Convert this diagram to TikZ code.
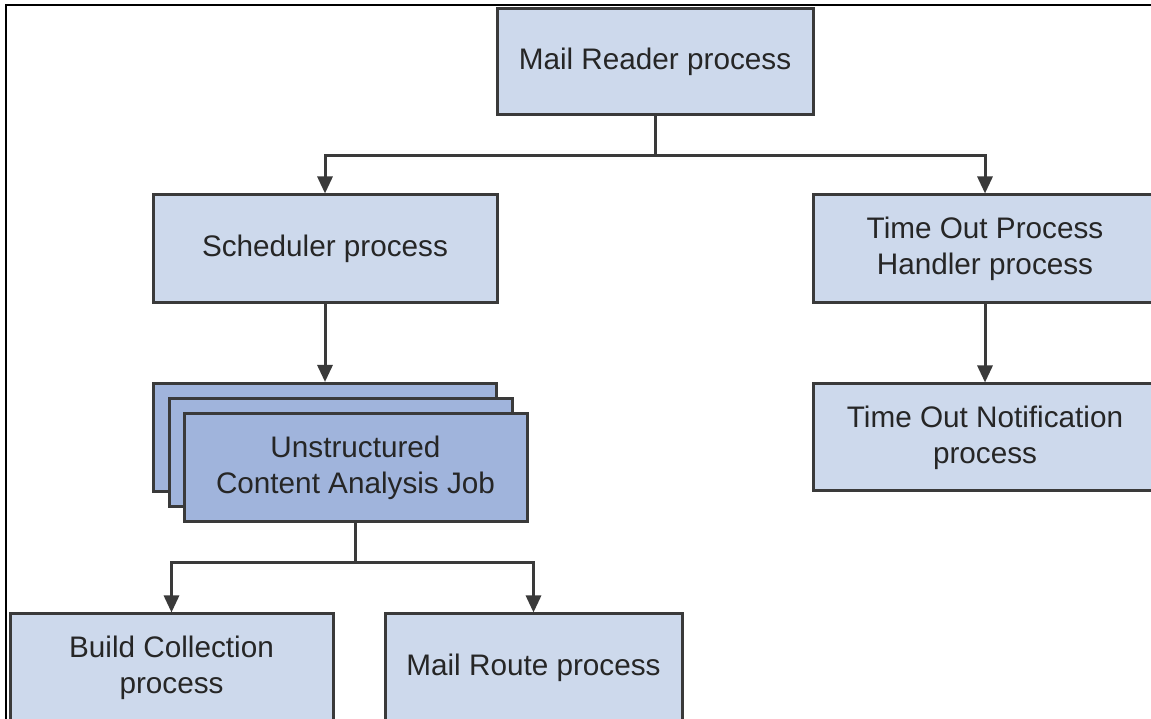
\documentclass[tikz,border=0pt]{standalone}
\usepackage{fontspec}
\setmainfont{Liberation Sans}
\usetikzlibrary{arrows.meta, positioning}
\definecolor{boxfill}{HTML}{CDD9EC}
\definecolor{jobfill}{HTML}{A0B4DC}
\definecolor{edgegray}{HTML}{3A3A3A}

\begin{document}
\begin{tikzpicture}[x=1pt, y=1pt,
			every node/.style={font=\fontsize{29.7}{36}\selectfont, text=black!85},
			box/.style={draw=edgegray, line width=3pt, fill=boxfill, minimum width=344pt,
				minimum height=108pt, align=center, inner sep=0pt},
			jobbox/.style={box, fill=jobfill, minimum width=343pt},
			arr/.style={-{Triangle[length=17pt, width=15pt]}, line width=3pt, draw=edgegray},
			]
			\useasboundingbox (0,0) rectangle (1151,719);
			\clip (0,0) rectangle (1151,719);

			% Frame
			\draw[line width=2.5pt] (6,-5) -- (6,714) -- (1160,714);

			% Root
			\node[box, minimum width=316pt, minimum height=106pt] (mail) at (655,657) {Mail Reader process};

			% Second level
			\node[box] (sched) at (325,470) {Scheduler process};
			\node[box] (handler) at (985,470) {Time Out Process\\Handler process};
			\node[box, minimum height=107pt, below=78pt of handler] (notify) {Time Out Notification\\process};

			% Stacked jobs
			\node[jobbox] (job3) at (325,281.5) {};
			\node[jobbox] (job2) at (340.5,266) {};
			\node[jobbox] (job) at (355.5,251) {Unstructured\\Content Analysis Job};

			% Bottom level
			\node[box, minimum width=323pt] (build) at (171.5,51) {Build Collection\\process};
			\node[box, minimum width=297pt] (route) at (533.5,51) {Mail Route process};

			% Arrows
			\draw[arr] (mail.south) -- ++(0,-39) -| (sched.north);
			\draw[arr] (mail.south) -- ++(0,-39) -| (handler.north);
			\draw[arr] (sched.south) -- (job3.north);
			\draw[arr] (handler.south) -- (notify.north);
			\draw[arr] (job.south) -- ++(0,-39.5) -| (build.north);
			\draw[arr] (job.south) -- ++(0,-39.5) -| (route.north);
		\end{tikzpicture}
\end{document}
